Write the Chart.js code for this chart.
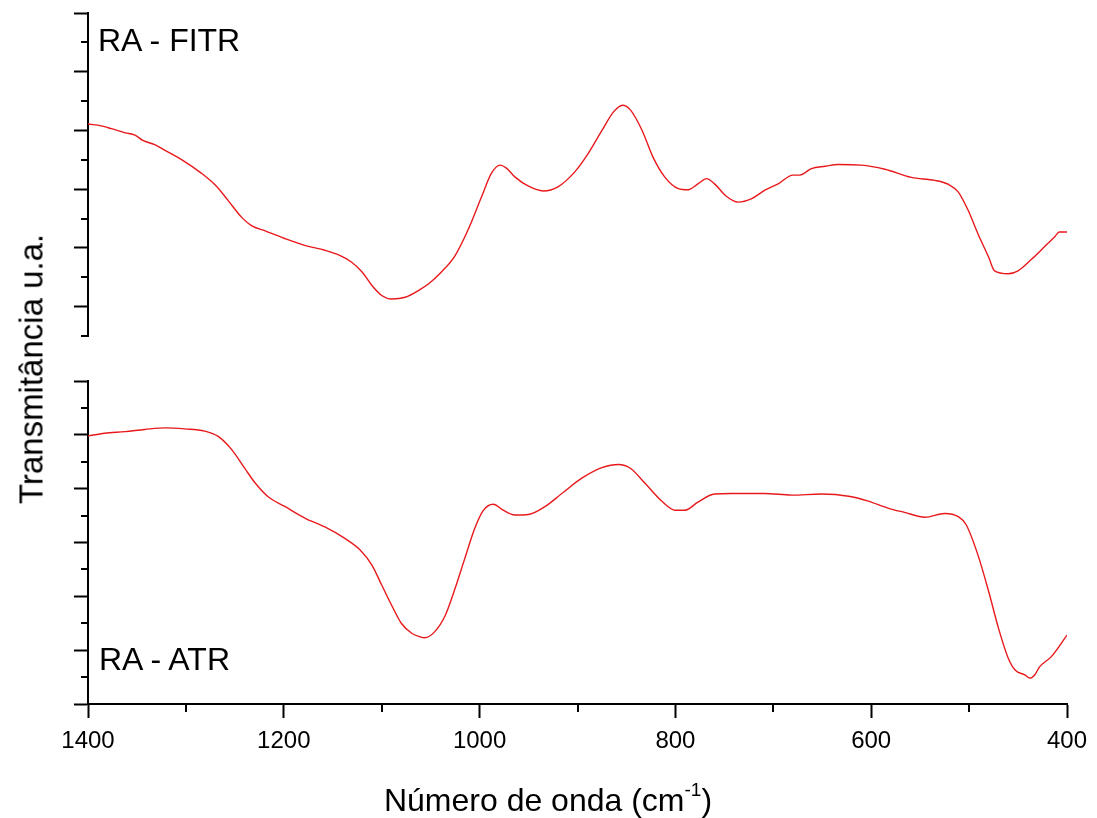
<!DOCTYPE html>
<html>
<head>
<meta charset="utf-8">
<script src="https://cdn.jsdelivr.net/npm/chart.js@4.4.1/dist/chart.umd.min.js"></script>
<style>
html,body{margin:0;padding:0;background:#fff;}
#wrap{position:relative;width:1097px;height:818px;background:#fff;overflow:hidden;font-family:"Liberation Sans",Arial,sans-serif;color:#000;}
#c1{position:absolute;left:0;top:0;}
#c2{position:absolute;left:0;top:345px;}
.lbl{position:absolute;font-size:32px;white-space:nowrap;line-height:1;}
#ytitle{position:absolute;left:31px;top:369px;font-size:33px;white-space:nowrap;line-height:1;transform:translate(-50%,-50%) rotate(-90deg);}
#xtitle{position:absolute;left:548px;top:800px;font-size:32px;white-space:nowrap;line-height:1;transform:translate(-50%,-50%);}
#xtitle sup{font-size:19px;position:relative;top:-4px;vertical-align:top;}
</style>
</head>
<body>
<div id="wrap">
  <canvas id="c1" width="1097" height="350"></canvas>
  <canvas id="c2" width="1097" height="473"></canvas>
  <div class="lbl" style="left:98px;top:24px;">RA - FITR</div>
  <div class="lbl" style="left:99px;top:643px;">RA - ATR</div>
  <div id="ytitle">Transmitância u.a.</div>
  <div id="xtitle">Número de onda (cm<sup>-1</sup>)</div>
</div>
<script>
// ---- Data (wavenumber in cm-1, transmittance in arbitrary units) ----
const fitrWavenumber = [1400,1390,1376,1362,1352,1344,1332,1318,1304,1284,1270,1257,1243,1233,1219,1199,1178,1158,1144,1131,1120,1110,1100,1090,1076,1061,1052,1039,1025,1012,998,988,979,972,964,950,935,920,903,889,875,863,854,846,834,823,811,797,787,777,768,760,748,736,722,709,695,680,673,661,647,634,610,586,559,535,521,511,501,491,480,474,460,450,436,423,412,408,400];
const fitrTransmittance = [3.11,3.09,3.03,2.96,2.92,2.83,2.76,2.63,2.50,2.27,2.07,1.81,1.52,1.38,1.29,1.16,1.04,0.96,0.88,0.76,0.59,0.36,0.19,0.13,0.16,0.29,0.39,0.59,0.87,1.30,1.87,2.27,2.41,2.35,2.21,2.05,1.97,2.04,2.29,2.61,3.00,3.32,3.43,3.35,3.00,2.55,2.21,2.01,1.99,2.09,2.18,2.09,1.88,1.78,1.84,1.98,2.09,2.24,2.24,2.35,2.39,2.42,2.41,2.34,2.20,2.15,2.08,1.95,1.64,1.24,0.84,0.61,0.56,0.61,0.81,1.02,1.20,1.27,1.27];

const atrWavenumber = [1400,1383,1362,1342,1321,1301,1281,1267,1253,1240,1229,1216,1199,1178,1158,1138,1122,1110,1100,1090,1080,1069,1061,1056,1046,1035,1025,1015,1005,996,986,976,964,950,933,916,896,875,858,846,831,814,800,790,777,760,743,724,709,681,651,623,603,583,566,545,525,511,503,491,480,470,460,453,443,438,433,428,416,400];
const atrTransmittance = [4.98,5.03,5.06,5.10,5.13,5.11,5.07,4.97,4.72,4.38,4.10,3.85,3.67,3.45,3.29,3.08,2.86,2.58,2.21,1.84,1.50,1.31,1.25,1.23,1.34,1.65,2.15,2.71,3.26,3.60,3.71,3.60,3.51,3.52,3.67,3.91,4.19,4.39,4.45,4.38,4.10,3.77,3.60,3.60,3.75,3.90,3.91,3.91,3.91,3.88,3.90,3.86,3.77,3.64,3.56,3.47,3.54,3.48,3.33,2.77,2.09,1.41,0.85,0.63,0.54,0.48,0.54,0.69,0.88,1.28];

const xTickValues = [1400,1200,1000,800,600,400];

const FONT = "'Liberation Sans', Arial, sans-serif";
const RED = '#e8191c';
const isInt = v => Math.abs(v - Math.round(v)) < 1e-6;
const isXMajor = v => xTickValues.some(t => Math.abs(t - v) < 1e-6);

const toPoints = (xs, ys) => xs.map((x, i) => ({x: x, y: ys[i]}));

const minorTicks = {
  id: 'minorTicks',
  afterDraw(chart, args, opts) {
    const ctx = chart.ctx;
    ctx.save();
    ctx.strokeStyle = '#000';
    ctx.lineWidth = 2;
    (opts.axes || []).forEach(a => {
      const s = chart.scales[a.id];
      if (!s || !s.options.display) return;
      s.ticks.forEach(t => {
        if (a.isMajor(t.value)) return;
        const p = Math.round(s.getPixelForValue(t.value));
        ctx.beginPath();
        if (s.isHorizontal()) { ctx.moveTo(p, s.top); ctx.lineTo(p, s.top + a.len); }
        else { ctx.moveTo(s.right - a.len, p); ctx.lineTo(s.right, p); }
        ctx.stroke();
      });
    });
    ctx.restore();
  }
};

function lineDataset(xs, ys) {
  return {
    data: toPoints(xs, ys),
    borderColor: RED,
    borderWidth: 1.4,
    pointRadius: 0,
    fill: false,
    cubicInterpolationMode: 'monotone'
  };
}

const xScaleBase = {
  type: 'linear', min: 400, max: 1400, reverse: true
};

// Top panel (RA - FITR)
new Chart(document.getElementById('c1'), {
  type: 'line',
  data: { datasets: [lineDataset(fitrWavenumber, fitrTransmittance)] },
  options: {
    responsive: false, animation: false, events: [],
    layout: { padding: { left: 0, right: 30, top: 13, bottom: 14 } },
    plugins: { legend: { display: false }, tooltip: { enabled: false }, minorTicks: { axes: [{ id: 'y', len: 7, isMajor: isInt }] } },
    scales: {
      x: Object.assign({}, xScaleBase, { display: false }),
      y: {
        min: -0.5, max: 5,
        afterFit(s) { s.width = 88; },
        border: { display: true, color: '#000', width: 2 },
        grid: { drawOnChartArea: false, drawTicks: true, tickLength: 14, tickWidth: 2,
                tickColor: c => (c.tick && isInt(c.tick.value)) ? '#000' : 'rgba(0,0,0,0)' },
        ticks: { display: false, stepSize: 0.5 }
      }
    }
  },
  plugins: [minorTicks]
});

// Bottom panel (RA - ATR)
new Chart(document.getElementById('c2'), {
  type: 'line',
  data: { datasets: [lineDataset(atrWavenumber, atrTransmittance)] },
  options: {
    responsive: false, animation: false, events: [],
    layout: { padding: { left: 0, right: 30, top: 36, bottom: 0 } },
    plugins: { legend: { display: false }, tooltip: { enabled: false },
      minorTicks: { axes: [{ id: 'y', len: 7, isMajor: isInt }, { id: 'x', len: 8, isMajor: isXMajor }] } },
    scales: {
      x: Object.assign({}, xScaleBase, {
        afterFit(s) { s.height = 114; },
        border: { display: true, color: '#000', width: 2 },
        grid: { drawOnChartArea: false, drawTicks: true, tickLength: 14, tickWidth: 2,
                tickColor: c => (c.tick && isXMajor(c.tick.value)) ? '#000' : 'rgba(0,0,0,0)' },
        ticks: { stepSize: 100, autoSkip: false, maxRotation: 0, minRotation: 0, padding: 9,
                 color: '#000', font: { family: FONT, size: 24 },
                 callback: v => isXMajor(v) ? String(v) : '' }
      }),
      y: {
        min: 0, max: 6,
        afterFit(s) { s.width = 88; },
        border: { display: true, color: '#000', width: 2 },
        grid: { drawOnChartArea: false, drawTicks: true, tickLength: 14, tickWidth: 2,
                tickColor: c => (c.tick && isInt(c.tick.value)) ? '#000' : 'rgba(0,0,0,0)' },
        ticks: { display: false, stepSize: 0.5 }
      }
    }
  },
  plugins: [minorTicks]
});
</script>
</body>
</html>
